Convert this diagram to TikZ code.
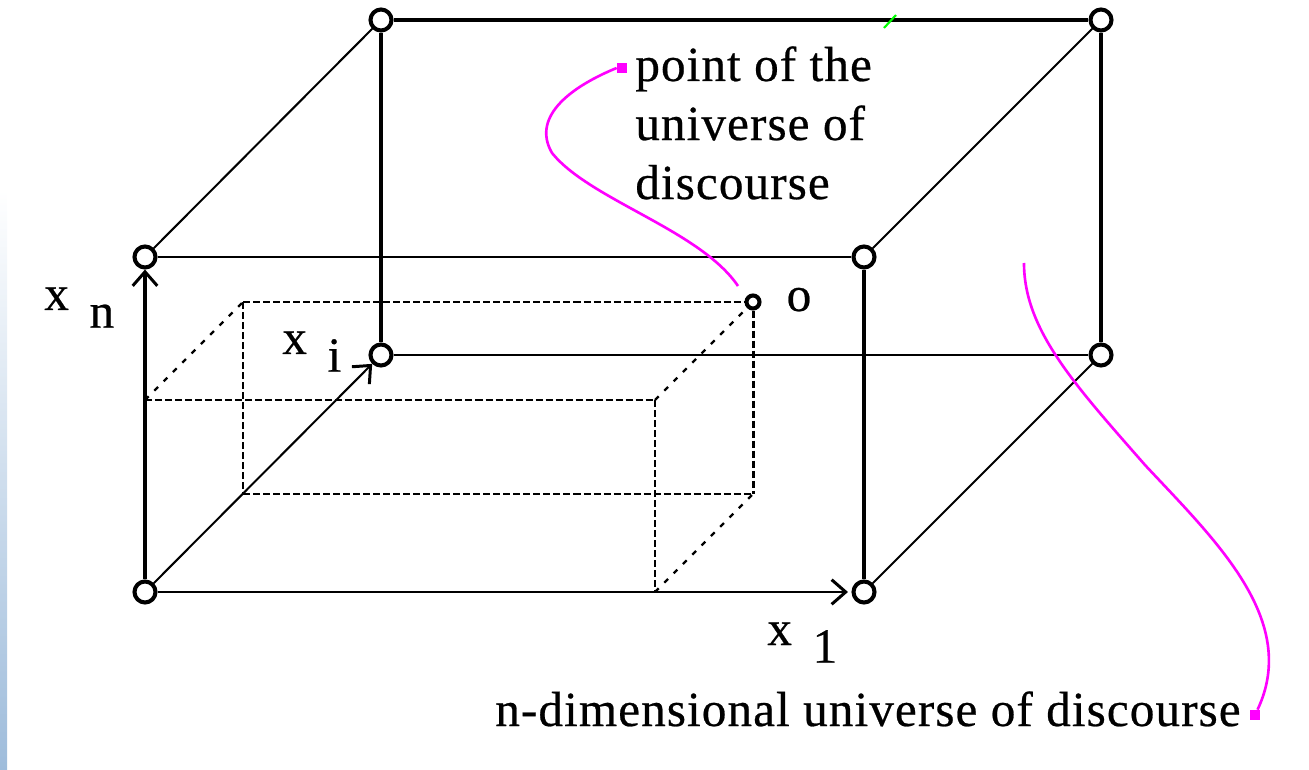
\documentclass[tikz,border=0pt]{standalone}
\usepackage{fontspec}
\setmainfont[LetterSpace=2.2,FakeBold=0.5]{Liberation Serif}
\usetikzlibrary{arrows.meta}
\definecolor{wiremag}{RGB}{255,0,255}
\definecolor{stripblue}{RGB}{158,188,219}
\newcommand{\axislabel}[2]{#1\hspace{0.42em}\raisebox{-0.36em}{#2}}

\begin{document}
\begin{tikzpicture}[
    x=0.02cm, y=-0.02cm,
    corner/.style={circle, draw=black, fill=white, line width=2.3pt,
                 minimum size=0.42cm, inner sep=0pt},
    pointdot/.style={circle, draw=black, fill=white, line width=2.3pt,
                 minimum size=0.26cm, inner sep=0pt},
    label/.style={inner sep=0pt, font=\fontsize{28}{33.6}\selectfont, text=black},
    edgeh/.style={line width=1.5pt, black},
    edgev/.style={line width=1.8pt, black},
    edged/.style={line width=1.15pt, black},
    arr/.style={-{Straight Barb[length=8pt, width=14pt, line width=1.7pt]}},
    dashh/.style={line width=1.7pt, dash pattern=on 4pt off 1.7pt},
    dashd/.style={line width=1.3pt, dash pattern=on 3pt off 4.5pt},
    wire/.style={line width=1.5pt, wiremag},
    wiredot/.style={rectangle, fill=wiremag, minimum size=0.2cm, inner sep=0pt},
  ]
  \useasboundingbox (0,0) rectangle (1309,770);
  \shade[top color=white, bottom color=stripblue] (0,190) rectangle (7,770);

  % dashed box
  \coordinate (dbl) at (243,302);
  \coordinate (dfl) at (145,400);
  \coordinate (dfr) at (655,400);
  \coordinate (lbl) at (243,494);
  \coordinate (lbr) at (753,494);
  \coordinate (lfr) at (655,592);
  \node[pointdot] (pt) at (753,302) {};
  \draw[dashh] (dbl) -- (pt);
  \draw[dashh] (dfl) -- (dfr);
  \draw[dashh] (lbl) -- (lbr);
  \draw[dashh] (dbl) -- (lbl);
  \draw[dashh] (pt) -- (lbr);
  \draw[dashh] (dfr) -- (lfr);
  \draw[dashd] (dfl) -- (dbl);
  \draw[dashd] (dfr) -- (pt);
  \draw[dashd] (lfr) -- (lbr);

  % outer box
  \node[corner] (btl) at (381,20)  {};
  \node[corner] (btr) at (1101,20) {};
  \node[corner] (ftl) at (145,257) {};
  \node[corner] (ftr) at (864,257) {};
  \node[corner] (bbl) at (381,355) {};
  \node[corner] (bbr) at (1101,355) {};
  \node[corner] (fbl) at (145,592) {};
  \node[corner] (fbr) at (864,592) {};

  \draw[edgeh, line width=2pt] (btl) -- (btr);
  \draw[edgeh] (ftl) -- (ftr);
  \draw[edgeh] (bbl) -- (bbr);
  \draw[edgev] (btl) -- (bbl);
  \draw[edgev] (btr) -- (bbr);
  \draw[edgev] (ftr) -- (fbr);
  \draw[edged] (ftl) -- (btl);
  \draw[edged] (ftr) -- (btr);
  \draw[edged] (fbr) -- (bbr);
  \draw[edgev, line width=2.2pt, arr] (fbl) -- (ftl);
  \draw[edgeh, line width=1.7pt, arr, shorten >=2pt] (fbl) -- (fbr);
  \draw[edged, arr] (fbl) -- (bbl);

  \draw[line width=1.2pt, green] (884,28) -- (896,15);

  % labels
  \node[label, anchor=north west, align=left] (ptlabel) at (635,46) {point of the\\ universe of\\ discourse};
  \node[label, anchor=base] (olabel) at (799,311) {o};
  \node[label, anchor=base west] (xn) at (44,310) {\axislabel{x}{n}};
  \node[label, anchor=base west] (xi) at (282,354) {\axislabel{x}{i}};
  \node[label, anchor=base west] (xone) at (767,645) {\axislabel{x}{1}};
  \node[label, anchor=base west] (ndlabel) at (495,726) {n-dimensional universe of discourse};

  % leader curves
  \node[wiredot] (ptdot) at (622,68) {};
  \node[wiredot] (nddot) at (1255,715) {};
  \coordinate (ptend) at (738,286);
  \coordinate (ndend) at (1024,263);
  \draw[wire] (ptdot.west) .. controls (575,85) and (530,115) .. (552,153)
      .. controls (590,200) and (700,230) .. (ptend);
  \draw[wire] (ndend) .. controls (1024,330) and (1075,385) .. (1145,465)
      .. controls (1215,540) and (1300,620) .. (nddot);
\end{tikzpicture}
\end{document}
